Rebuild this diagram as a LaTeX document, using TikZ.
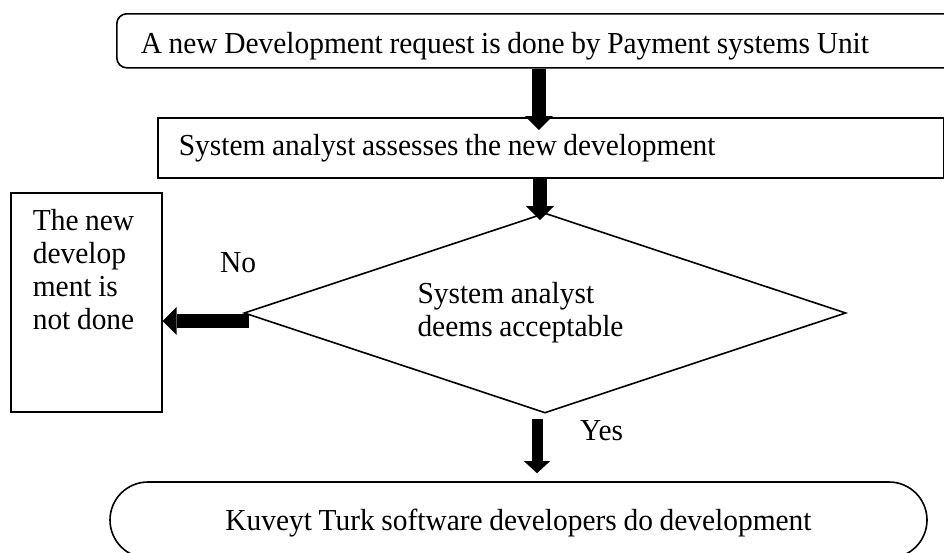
\documentclass[tikz,border=0pt]{standalone}
\usepackage{fontspec}
\setmainfont[FakeStretch=0.965,WordSpace=0.9]{Liberation Serif}
\usetikzlibrary{shapes.geometric,arrows.meta}

\begin{document}
\begin{tikzpicture}[x=1pt,y=-1pt,
        box/.style={draw,line width=1.6pt,inner sep=0pt,font=\fontsize{30.5}{33}\selectfont},
        fat/.style={line width=14pt,-{Triangle[width=28pt,length=14pt,line width=0pt]}},
        lbl/.style={anchor=base west,inner sep=0pt,font=\fontsize{30.5}{33}\selectfont}]

        \useasboundingbox (0,0) rectangle (944,552);
        \clip (0,0) rectangle (944,552);

        % Request
        \node[box,rounded corners=10pt,anchor=north west,inner xsep=24pt,
            text height=40pt,text depth=14pt] (req) at (116,13)
            {\makebox[796pt][l]{A new Development request is done by Payment systems Unit}};

        % Assessment
        \node[box,anchor=north west,inner xsep=21pt,
            text height=38pt,text depth=22pt] (assess) at (157,117)
            {\makebox[744pt][l]{System analyst assesses the new development}};

        % Decision
        \node[box,diamond,aspect=3,minimum width=602pt,minimum height=200pt] (check) at (545,313)
            {\parbox{255pt}{System analyst\\deems acceptable}};

        % Rejected
        \node[box,anchor=north west,inner xsep=22pt,text height=38pt,text depth=181pt] (done) at (10,192)
            {\parbox[t]{107pt}{The new\\develop\\ment is\\not done}};

        % Development
        \node[box,rounded corners=38pt,minimum width=817pt,text height=48pt,text depth=28pt] (dev) at (518.5,520)
            {Kuveyt Turk software developers do development};

        % Arrows
        \coordinate (c2) at ([xshift=-5pt]check.north);
        \coordinate (c3) at ([xshift=6pt,yshift=-8pt]check.west);
        \coordinate (c4) at ([xshift=-8pt,yshift=-5pt]check.south);
        \coordinate (c5) at ([yshift=8pt]dev.north);
        \draw[fat] (req.south) -- ([yshift=-13pt]assess.north -| req.south);
        \draw[fat] (c2 |- assess.south) -- ([yshift=-8pt]c2);
        \draw[fat] (c3) -- (c3 -| done.east);
        \draw[fat,line width=11pt,-{Triangle[width=26pt,length=12pt,line width=0pt]}] (c4) -- (c5 -| c4);

        % Labels
        \node[lbl] (no) at (220,272) {No};
        \node[lbl] (yes) at (580,440) {Yes};

    \end{tikzpicture}
\end{document}
